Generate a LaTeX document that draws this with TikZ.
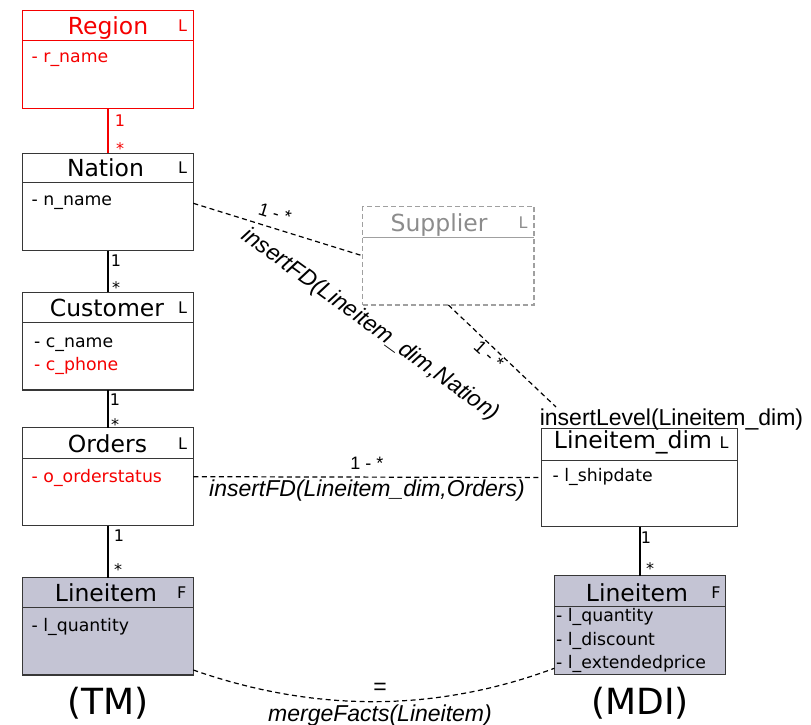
\documentclass[tikz,border=0pt]{standalone}
\usepackage{fontspec}
\setmainfont{DejaVu Sans}
\newfontfamily\labelfont{Liberation Sans}
\usetikzlibrary{calc}

\definecolor{boxline}{RGB}{55,55,55}
\definecolor{factfill}{RGB}{196,196,212}
\definecolor{ghost}{RGB}{140,140,140}
\definecolor{ghostline}{RGB}{160,160,160}
\definecolor{hot}{RGB}{245,0,0}

\tikzset{
  classbox/.style={draw=boxline, line width=1.4pt, rectangle, inner sep=0pt,
                   outer sep=0pt, anchor=north west},
  regionbox/.style={classbox, draw=hot},
  factbox/.style={classbox, fill=factfill},
  ghostbox/.style={classbox, draw=ghostline, dash pattern=on 5pt off 3pt, line width=1.1pt},
  headrule/.style={draw=boxline, line width=1.4pt},
  title/.style={font=\fontsize{23.5}{26}\selectfont, anchor=base, inner sep=0pt},
  tag/.style={font=\fontsize{16}{18}\selectfont, anchor=base, inner sep=0pt},
  attr/.style={font=\fontsize{17.3}{19}\selectfont, anchor=base west, inner sep=0pt},
  mult/.style={font=\fontsize{16}{18}\selectfont, inner sep=0pt},
  link/.style={draw=black, line width=2pt},
  soft/.style={draw=black, line width=1.2pt, dash pattern=on 5pt off 3.5pt},
  card/.style={font=\labelfont\fontsize{18}{20}\selectfont, inner sep=0pt},
  note/.style={font=\labelfont\itshape\fontsize{23}{26}\selectfont, inner sep=0pt},
  plainnote/.style={font=\labelfont\fontsize{23}{26}\selectfont, inner sep=0pt},
  caption/.style={font=\fontsize{36}{40}\selectfont, inner sep=0pt},
}

\begin{document}
\begin{tikzpicture}[x=1pt,y=-1pt]
\useasboundingbox (0,0) rectangle (811,725);

% ---------- class boxes ----------
\node[regionbox, minimum width=170.6pt, minimum height=97.6pt] (region)   at (22.7,10.7)  {};
\node[classbox,  minimum width=170.6pt, minimum height=97.4pt] (nation)   at (22.7,153.3) {};
\node[classbox,  minimum width=170.6pt, minimum height=97.7pt] (customer) at (22.7,292.3) {};
\node[classbox,  minimum width=170.6pt, minimum height=98pt]   (orders)   at (22.7,427.7) {};
\node[factbox,   minimum width=170.6pt, minimum height=97.3pt] (facttm)   at (22.7,577.7) {};
\node[ghostbox,  minimum width=171.3pt, minimum height=98.3pt] (supplier) at (362.7,206.7) {};
\node[classbox,  minimum width=195.6pt, minimum height=98.4pt] (dim)      at (541.7,428.3) {};
\node[factbox,   minimum width=171.4pt, minimum height=98.6pt] (factmdi)  at (554.3,575.7) {};

% header separators
\draw[headrule, draw=hot] ([yshift=-30pt]region.north west) -- ([yshift=-30pt]region.north east);
\draw[headrule] ([yshift=-29.4pt]nation.north west)   -- ([yshift=-29.4pt]nation.north east);
\draw[headrule] ([yshift=-30pt]customer.north west)   -- ([yshift=-30pt]customer.north east);
\draw[headrule] ([yshift=-30.6pt]orders.north west)   -- ([yshift=-30.6pt]orders.north east);
\draw[headrule] ([yshift=-30pt]facttm.north west)     -- ([yshift=-30pt]facttm.north east);
\draw[headrule, draw=ghostline, line width=1.1pt] ([yshift=-31pt]supplier.north west) -- ([yshift=-31pt]supplier.north east);
\draw[headrule] ([yshift=-32.4pt]dim.north west)      -- ([yshift=-32.4pt]dim.north east);
\draw[headrule] ([yshift=-31pt]factmdi.north west)    -- ([yshift=-31pt]factmdi.north east);

% titles and level/fact tags
\node[title, text=hot] (regiont) at (108,34.2) {Region};
\node[tag, text=hot]   (regionl) at (182.7,31.5) {L};
\node[title] (nationt) at (105.5,176.8) {Nation};
\node[tag]   (nationl) at (182.7,173.8) {L};
\node[title] (customert) at (107,316) {Customer};
\node[tag]   (customerl) at (182.7,313) {L};
\node[title] (orderst) at (107.5,452.5) {Orders};
\node[tag]   (ordersl) at (182.7,449) {L};
\node[title] (facttmt) at (106,601.5) {Lineitem};
\node[tag]   (facttml) at (181.7,598.5) {F};
\node[title, text=ghost] (suppliert) at (439,231.5) {Supplier};
\node[tag, text=ghost]   (supplierl) at (523,228) {L};
\node[title] (dimt) at (633,448.5) {Lineitem\_dim};
\node[tag]   (diml) at (724,448.5) {L};
\node[title] (factmdit) at (637,601.5) {Lineitem};
\node[tag]   (factmdil) at (716,598.5) {F};

% attributes
\node[attr, text=hot] (rname) at (31.5,63) {- r\_name};
\node[attr] (nname) at (31.5,205) {- n\_name};
\node[attr] (cname) at (34,347.3) {- c\_name};
\node[attr, text=hot] (cphone) at (34,370.5) {- c\_phone};
\node[attr, text=hot] (ostatus) at (31.5,482.5) {- o\_orderstatus};
\node[attr] (tmqty) at (31.5,631.5) {- l\_quantity};
\node[attr] (ship) at (552.5,481.7) {- l\_shipdate};
\node[attr] (mdiqty) at (556,621.7) {- l\_quantity};
\node[attr] (mdidisc) at (556,645) {- l\_discount};
\node[attr] (mdiprice) at (556,668.3) {- l\_extendedprice};

% ---------- roll-up links ----------
\draw[link, draw=hot, line width=1.6pt] (region.south) -- (nation.north);
\draw[link] (nation.south) -- (customer.north);
\draw[link] (customer.south) -- (orders.north);
\draw[link] (orders.south) -- (facttm.north);
\draw[link] (dim.south) -- (dim.south |- factmdi.north);

\node[mult, text=hot] (m1a) at (120,120.7) {1};
\node[mult, text=hot] (m1b) at (120,148.5) {*};
\node[mult] (m2a) at (116,261) {1};
\node[mult] (m2b) at (116,288) {*};
\node[mult] (m3a) at (115,400) {1};
\node[mult] (m3b) at (115,425) {*};
\node[mult] (m4a) at (119,536) {1};
\node[mult] (m4b) at (118,570) {*};
\node[mult] (m5a) at (646,537.5) {1};
\node[mult] (m5b) at (650,569) {*};

% ---------- evolution operations ----------
\node[plainnote, anchor=base] (lvl) at (671.5,425) {insertLevel(Lineitem\_dim)};
\coordinate (lvlend) at (556,407);

\draw[soft] ([yshift=-50pt]nation.north east) -- (supplier.west);
\draw[soft] (supplier.south) -- (lvlend);
\draw[soft] (orders.east) -- (dim.west);
\draw[soft] ([yshift=5pt]facttm.south east)
  .. controls (316,713) and (437,712) .. ([yshift=6pt]factmdi.south west);

\node[card, rotate=-17] (c1) at (275,213) {1 - *};
\node[note, rotate=-36] (fdnation) at (370,325) {insertFD(Lineitem\_dim,Nation)};
\node[card, rotate=-42] (c2) at (489,355) {1 - *};
\node[card] (c3) at (367,463) {1 - *};
\node[note] (fdorders) at (367,491) {insertFD(Lineitem\_dim,Orders)};
\node[plainnote] (eq) at (380,689) {=};
\node[note, anchor=base] (merge) at (380,721) {mergeFacts(Lineitem)};

% ---------- captions ----------
\node[caption] (tmcap) at (108,703) {(TM)};
\node[caption] (mdicap) at (640,703) {(MDI)};
\end{tikzpicture}
\end{document}
